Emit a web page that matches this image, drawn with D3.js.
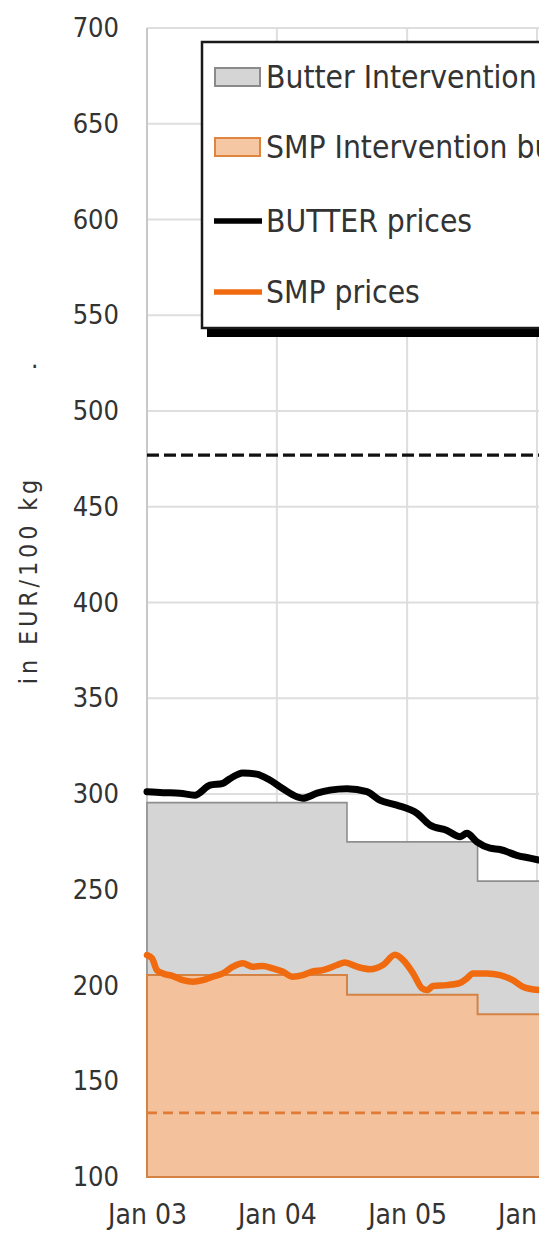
<!DOCTYPE html>
<html>
<head>
<meta charset="utf-8">
<script src="https://cdn.jsdelivr.net/npm/d3@7"></script>
<style>
  html, body { margin: 0; padding: 0; background: #fff; }
  svg { display: block; }
  text { font-family: 'DejaVu Sans Condensed', 'DejaVu Sans', sans-serif; font-stretch: condensed; fill: #333; }
</style>
</head>
<body>
<svg id="chart" width="539" height="1235"></svg>
<script>
// ---- data ----
const yTicks = [100, 150, 200, 250, 300, 350, 400, 450, 500, 550, 600, 650, 700];
const xTickYears = ["2003-01-01", "2004-01-01", "2005-01-01", "2006-01-01", "2007-01-01", "2008-01-01"];

const interDates = ["2003-01-01", "2004-07-16", "2005-07-18", "2006-03-01"];
const butterInter = [295.5, 275.0, 254.5, 254.5];
const smpInter = [205.5, 195.2, 185.0, 185.0];

const butterRefLevel = 477;
const smpRefLevel = 133.5;

const butterDates = ["2003-01-01","2003-02-15","2003-04-03","2003-05-15","2003-06-27","2003-08-02","2003-08-22",
  "2003-09-27","2003-11-05","2003-12-12","2004-01-17","2004-02-26","2004-03-14","2004-04-23","2004-05-29",
  "2004-07-16","2004-09-10","2004-10-16","2004-12-03","2005-01-29","2005-03-06","2005-04-23","2005-05-30",
  "2005-06-18","2005-07-16","2005-08-22","2005-09-19","2005-11-05","2005-12-12","2006-01-06"];
const butterPrices = [301.2,300.7,300.4,299.4,304.6,305.6,308,
  311,310.4,307.3,302.9,298.6,297.8,300.4,302,
  302.8,301.2,296.8,294.2,289.9,283.8,281,277.7,
  279.5,275,271.7,271,268,266.5,265.5];

const smpDates = ["2003-01-01","2003-01-15","2003-01-29","2003-02-15","2003-03-15","2003-04-12","2003-05-10",
  "2003-06-07","2003-07-05","2003-08-02","2003-08-30","2003-09-27","2003-10-25","2003-11-22","2003-12-20",
  "2004-01-17","2004-02-14","2004-03-14","2004-04-11","2004-05-09","2004-06-18","2004-07-10","2004-08-13",
  "2004-09-19","2004-10-25","2004-11-28","2004-12-21","2005-01-18","2005-02-12","2005-02-26","2005-03-15",
  "2005-04-23","2005-05-30","2005-06-18","2005-07-05","2005-08-13","2005-09-19","2005-10-25","2005-11-22","2006-01-06"];
const smpPrices = [215.9,214.2,208,206.3,204.9,202.8,202,
  202.8,204.6,206.3,209.8,211.6,209.8,210.2,209,
  207.3,204.6,205.4,207.3,208,210.7,212,209.8,
  208.5,210.7,216,213.3,206.3,198.5,197.6,199.7,
  200.2,201.4,203.7,206.3,206.3,205.4,202.8,199.4,197.6];

const legendLabels = ["Butter Intervention buying-in price", "SMP Intervention buying-in price", "BUTTER prices", "SMP prices"];

// ---- setup ----
const parse = d3.timeParse("%Y-%m-%d");
const svg = d3.select("#chart");
const W = 539, H = 1235;
const plotLeft = 147, plotTop = 28, plotBottom = 1177;
const FONT = "'DejaVu Sans Condensed', 'DejaVu Sans', sans-serif";

const x = d3.scaleTime()
  .domain([parse("2003-01-01"), parse("2009-01-01")])
  .range([plotLeft, plotLeft + 6 * 130]);
const y = d3.scaleLinear().domain([100, 700]).range([plotBottom, plotTop]);

svg.append("rect").attr("width", W).attr("height", H).attr("fill", "#fff");

const grid = svg.append("g");
grid.selectAll("line.h").data(yTicks).join("line")
  .attr("x1", plotLeft).attr("x2", 1000)
  .attr("y1", d => y(d)).attr("y2", d => y(d))
  .attr("stroke", "#dedede").attr("stroke-width", 2);
grid.selectAll("line.v").data(xTickYears.map(parse)).join("line")
  .attr("x1", d => x(d)).attr("x2", d => x(d))
  .attr("y1", plotTop).attr("y2", plotBottom)
  .attr("stroke", d => x(d) === plotLeft ? "#c8c8c8" : "#dedede").attr("stroke-width", 2);

// y axis labels
const yAxis = d3.axisLeft(y).tickValues(yTicks).tickSize(0).tickPadding(0);
const yg = svg.append("g").attr("transform", "translate(119,0)").call(yAxis);
yg.select(".domain").remove();
yg.selectAll("text").attr("font-size", 27).attr("fill", "#383838").style("font-family", FONT);

// x axis labels
const xAxis = d3.axisBottom(x).tickValues(xTickYears.map(parse))
  .tickFormat(d3.timeFormat("Jan %y")).tickSize(0).tickPadding(0);
const xg = svg.append("g").attr("transform", "translate(0,1204)").call(xAxis);
xg.select(".domain").remove();
xg.selectAll("text").attr("font-size", 28).attr("fill", "#383838").style("font-family", FONT);

// ---- intervention areas ----
const interData = interDates.map((d, i) => ({ date: parse(d), butter: butterInter[i], smp: smpInter[i] }));
const butterArea = d3.area().curve(d3.curveStepAfter)
  .x(d => x(d.date)).y0(y(100)).y1(d => y(d.butter));
const smpArea = d3.area().curve(d3.curveStepAfter)
  .x(d => x(d.date)).y0(y(100)).y1(d => y(d.smp));

svg.append("path").datum(interData).attr("d", butterArea)
  .attr("fill", "#d5d5d5").attr("stroke", "#8e8e8e").attr("stroke-width", 1.6);
svg.append("path").datum(interData).attr("d", smpArea)
  .attr("fill", "#f3c29d").attr("stroke", "#d48345").attr("stroke-width", 2);

// ---- dashed reference lines ----
svg.append("line").attr("x1", plotLeft).attr("x2", 1000)
  .attr("y1", y(butterRefLevel)).attr("y2", y(butterRefLevel))
  .attr("stroke", "#111").attr("stroke-width", 3.2).attr("stroke-dasharray", "12,5");
svg.append("line").attr("x1", plotLeft).attr("x2", 1000)
  .attr("y1", y(smpRefLevel)).attr("y2", y(smpRefLevel))
  .attr("stroke", "#e07a35").attr("stroke-width", 2.6).attr("stroke-dasharray", "10,6");

// ---- price lines ----
const line = d3.line().x(d => x(d[0])).y(d => y(d[1])).curve(d3.curveMonotoneX);
svg.append("path").datum(smpDates.map((d, i) => [parse(d), smpPrices[i]]))
  .attr("d", line).attr("fill", "none").attr("stroke", "#f06b10")
  .attr("stroke-width", 6.5).attr("stroke-linejoin", "round").attr("stroke-linecap", "round");
svg.append("path").datum(butterDates.map((d, i) => [parse(d), butterPrices[i]]))
  .attr("d", line).attr("fill", "none").attr("stroke", "#000")
  .attr("stroke-width", 7).attr("stroke-linejoin", "round").attr("stroke-linecap", "round");

// ---- y axis title ----
svg.append("text")
  .attr("transform", "translate(37,580) rotate(-90)")
  .attr("text-anchor", "middle").attr("font-size", 25)
  .attr("letter-spacing", 3.8).attr("fill", "#333")
  .text("in EUR/100 kg");
svg.append("text").attr("x", 31).attr("y", 368).attr("font-size", 26).attr("fill", "#555").text(".");

// ---- legend ----
const lg = svg.append("g");
lg.append("rect").attr("x", 207).attr("y", 50).attr("width", 700).attr("height", 287).attr("fill", "#000");
lg.append("rect").attr("x", 202).attr("y", 42).attr("width", 700).attr("height", 286)
  .attr("fill", "#fff").attr("stroke", "#1a1a1a").attr("stroke-width", 2.5);

const rowsY = [77, 147, 221, 292];
const items = lg.selectAll("g.item").data(legendLabels).join("g")
  .attr("transform", (d, i) => `translate(0,${rowsY[i]})`);
items.each(function(d, i) {
  const g = d3.select(this);
  if (i === 0) {
    g.append("rect").attr("x", 215).attr("y", -9).attr("width", 45).attr("height", 18)
      .attr("fill", "#d5d5d5").attr("stroke", "#8a8a8a").attr("stroke-width", 2);
  } else if (i === 1) {
    g.append("rect").attr("x", 215).attr("y", -9).attr("width", 45).attr("height", 18)
      .attr("fill", "#f5c7a2").attr("stroke", "#e0853f").attr("stroke-width", 2);
  } else {
    g.append("line").attr("x1", 214).attr("x2", 262).attr("y1", 0).attr("y2", 0)
      .attr("stroke", i === 2 ? "#000" : "#f06b10").attr("stroke-width", 5.5);
  }
  g.append("text").attr("x", 266).attr("y", 11).attr("font-size", 31.5).attr("fill", "#2e2e2e").text(d);
});
</script>
</body>
</html>
